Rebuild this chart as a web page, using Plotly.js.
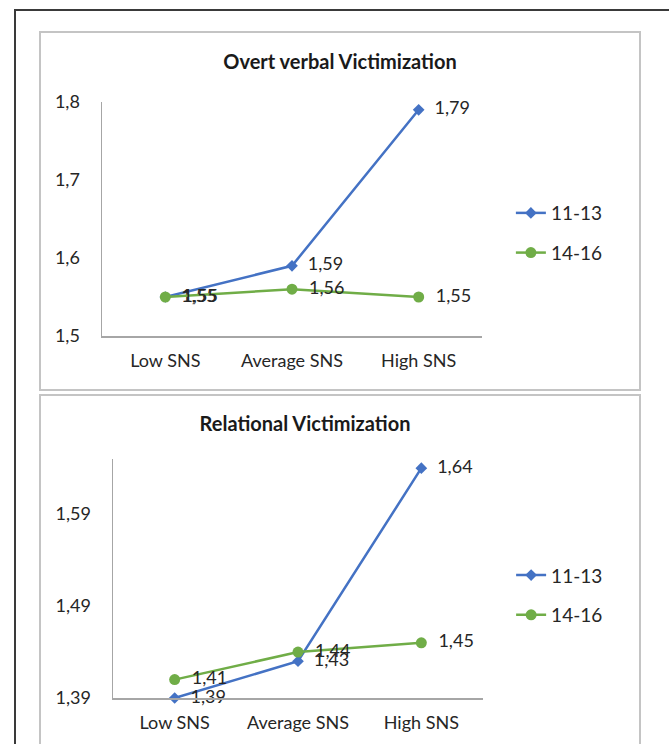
<!DOCTYPE html>
<html>
<head>
<meta charset="utf-8">
<script src="https://cdn.plot.ly/plotly-3.0.1.min.js"></script>
<style>
  html, body { margin: 0; padding: 0; background: #fff; width: 669px; height: 744px; overflow: hidden; }
  #frame { position: absolute; left: 14px; top: 9px; width: 720px; height: 800px; border-left: 2px solid #3a3a3a; border-top: 2px solid #3a3a3a; }
  .panel { position: absolute; border: 2px solid #c4c4c4; background: #fff; }
  #p1 { left: 39px; top: 31px; width: 598px; height: 356px; }
  #p2 { left: 39px; top: 394px; width: 598px; height: 360px; }
</style>
</head>
<body>
<div id="frame"></div>
<div id="p1" class="panel"></div>
<div id="p2" class="panel"></div>
<script>
const categories = ["Low SNS", "Average SNS", "High SNS"];
const seriesNames = ["11-13", "14-16"];

const overt_11_13 = [1.55, 1.59, 1.79];
const overt_14_16 = [1.55, 1.56, 1.55];

const relational_11_13 = [1.39, 1.43, 1.64];
const relational_14_16 = [1.41, 1.44, 1.45];

const FONT = "Lato, 'Open Sans', sans-serif";
const BLUE = "#4472C4";
const GREEN = "#70AD47";
const TXT = "#262626";

function lbl(arr) { return arr.map(v => v.toFixed(2).replace('.', ',')); }

function traces(a, b) {
  return [
    { x: categories, y: a, name: seriesNames[0], type: 'scatter', mode: 'lines+markers+text',
      text: lbl(a), textposition: 'middle right', texttemplate: '  %{text}',
      textfont: { family: FONT, size: 18, color: TXT },
      line: { color: BLUE, width: 2.5 }, marker: { symbol: 'diamond', size: 9, color: BLUE },
      legendgroup: 'a', cliponaxis: false },
    { x: categories, y: b, name: seriesNames[1], type: 'scatter', mode: 'lines+markers+text',
      text: lbl(b), textposition: 'middle right', texttemplate: '  %{text}',
      textfont: { family: FONT, size: 18, color: TXT },
      line: { color: GREEN, width: 2.5 }, marker: { symbol: 'circle', size: 11, color: GREEN },
      legendgroup: 'b', cliponaxis: false }
  ];
}

function layout(title, titleX, titleY, w, h, m, yr, tick0, fmt, legY) {
  return {
    width: w, height: h, margin: m,
    paper_bgcolor: 'rgba(0,0,0,0)', plot_bgcolor: 'rgba(0,0,0,0)',
    separators: ',.',
    font: { family: FONT, size: 18, color: TXT },
    title: { text: '<b>' + title + '</b>', font: { family: FONT, size: 20, color: '#1a1a1a' },
             xref: 'container', yref: 'container', x: titleX, y: titleY, xanchor: 'center', yanchor: 'middle' },
    showlegend: true,
    legend: { x: 1.076, xanchor: 'left', y: legY, yanchor: 'middle', traceorder: 'grouped', tracegroupgap: 12,
              font: { family: FONT, size: 19, color: TXT }, bgcolor: 'rgba(0,0,0,0)' },
    xaxis: { type: 'category', range: [-0.5, 2.5], showgrid: false, zeroline: false,
             showline: true, linecolor: '#a6a6a6', linewidth: 1.5,
             ticks: 'outside', ticklen: 8, tickcolor: 'rgba(0,0,0,0)',
             tickfont: { family: FONT, size: 18, color: TXT }, fixedrange: true },
    yaxis: { range: yr, tick0: tick0, dtick: 0.1, tickformat: fmt, showgrid: false, zeroline: false,
             showline: true, linecolor: '#a6a6a6', linewidth: 1.5,
             ticks: 'outside', ticklen: 17, tickcolor: 'rgba(0,0,0,0)',
             tickfont: { family: FONT, size: 18, color: TXT }, fixedrange: true }
  };
}

Plotly.newPlot('p1', traces(overt_11_13, overt_14_16),
  layout('Overt verbal Victimization', 0.5, 1 - 29/356, 598, 356, { l: 61, r: 157, t: 69, b: 53 }, [1.5, 1.8], 1.5, '.1f', 0.44),
  { staticPlot: true });

Plotly.newPlot('p2', traces(relational_11_13, relational_14_16),
  layout('Relational Victimization', 264/598, 1 - 28/360, 598, 360, { l: 72, r: 156, t: 63, b: 58 }, [1.39, 1.65], 1.39, '.2f', 0.43),
  { staticPlot: true });
</script>
</body>
</html>
